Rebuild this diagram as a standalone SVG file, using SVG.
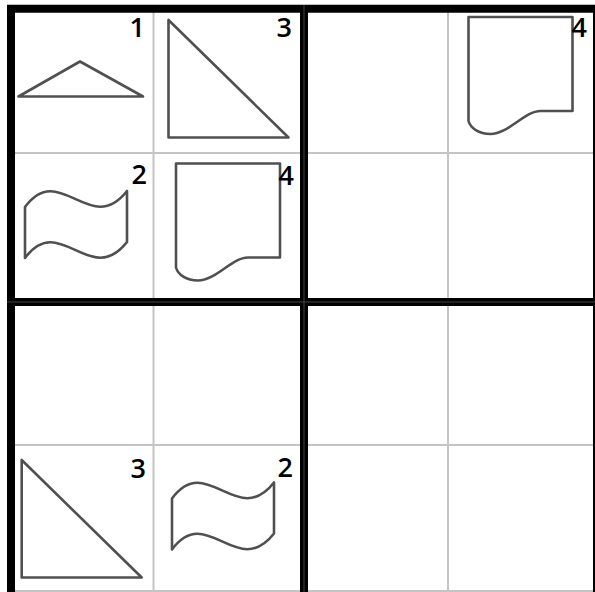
<svg xmlns="http://www.w3.org/2000/svg" width="595" height="592" viewBox="0 0 595 592">
<style>
.grid{stroke:#c4c4c4;stroke-width:2;fill:none}
.thick{stroke:#000;stroke-width:8;fill:none}
.shape{fill:#fff;stroke:#505050;stroke-width:2.6;stroke-linejoin:round}
.lbl{font-family:"Open Sans","DejaVu Sans",sans-serif;font-weight:600;font-size:27px;fill:#000;text-anchor:end}
</style>
<defs>
<path id="doc" d="M0,0 H104 V94 H72 C56,94 40,117 22,117 C10,117 2,111 0,104 Z"/>
<path id="wave" d="M0,0 C35,-47 65,31 102,-16 V35 C65,82 35,4 0,51 Z"/>
<path id="rtri" d="M0,0 V117.5 H120 Z"/>
</defs>
<rect width="595" height="592" fill="#fff"/>
<g id="grid">
<line class="grid" x1="153.5" y1="10" x2="153.5" y2="592"/>
<line class="grid" x1="448" y1="10" x2="448" y2="592"/>
<line class="grid" x1="12" y1="153" x2="595" y2="153"/>
<line class="grid" x1="12" y1="445" x2="595" y2="445"/>
<line class="grid" x1="12" y1="591" x2="595" y2="591"/>
<line class="thick" x1="11" y1="5" x2="11" y2="592"/>
<line class="thick" x1="304" y1="5" x2="304" y2="592"/>
<line class="thick" x1="597" y1="5" x2="597" y2="592"/>
<line class="thick" x1="7" y1="8.7" x2="595" y2="8.7"/>
<line class="thick" x1="7" y1="302" x2="595" y2="302"/>
<line stroke="#444" stroke-width="1" x1="304" y1="5" x2="304" y2="592"/>
<line stroke="#444" stroke-width="1" x1="7" y1="302" x2="595" y2="302"/>
</g>
<g id="connectors"></g>
<g id="node-1">
<path class="shape" d="M18.5,96.5 L80,61.5 L143,96.5 Z"/>
<text class="lbl" x="145" y="37">1</text>
</g>
<g id="node-3a">
<use href="#rtri" class="shape" transform="translate(168.5,20)"/>
<text class="lbl" x="292" y="37">3</text>
</g>
<g id="node-4a">
<use href="#doc" class="shape" transform="translate(468.5,17)"/>
<text class="lbl" x="587" y="37">4</text>
</g>
<g id="node-2a">
<use href="#wave" class="shape" transform="translate(25,207)"/>
<text class="lbl" x="147" y="184">2</text>
</g>
<g id="node-4b">
<use href="#doc" class="shape" transform="translate(176,163.5)"/>
<text class="lbl" x="294" y="185">4</text>
</g>
<g id="node-3b">
<use href="#rtri" class="shape" transform="translate(21.7,460)"/>
<text class="lbl" x="146" y="478">3</text>
</g>
<g id="node-2b">
<use href="#wave" class="shape" transform="translate(172,498.5)"/>
<text class="lbl" x="293" y="477">2</text>
</g>
</svg>
